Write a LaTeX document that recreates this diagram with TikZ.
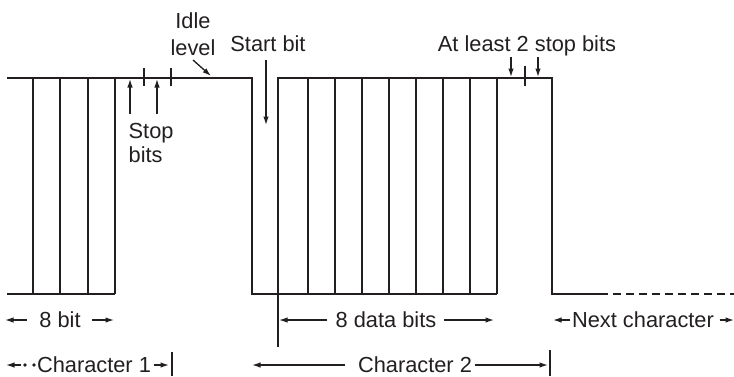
\documentclass[tikz,border=0pt]{standalone}
\usepackage{fontspec}
\setmainfont{Liberation Sans}
\usetikzlibrary{arrows.meta}
\definecolor{ink}{RGB}{35,31,32}

\begin{document}
\begin{tikzpicture}[x=1pt, y=-1pt, line width=1.3pt, draw=ink, text=ink,
    >={Latex[length=8.5pt,width=5.5pt]},
    lbl/.style={font=\fontsize{21.8}{24}\selectfont, inner sep=0pt}]
    \useasboundingbox (0,0) rectangle (734,376);

    %
    \draw (7,78) -- (252,78) -- (252,294) -- (278,294) -- (278,78)
        -- (552,78) -- (552,294) -- (600,294);
    \draw[dashed, dash pattern=on 8pt off 5pt] (600,294) -- (734,294);
    \draw (7,294) -- (115,294);
    \draw (278,294) -- (497,294);
    \draw (278,294) -- (278,347);

    %
    \foreach \x in {33,60,88,115}
        \draw (\x,78) -- (\x,294);
    \foreach \x in {308,335,362,389,416,443,470,497}
        \draw (\x,78) -- (\x,294);

    %
    \foreach \x in {144,171}
        \draw (\x,68) -- (\x,86);
    \draw (525,66) -- (525,86);

    %
    \node[lbl, align=center, font=\fontsize{21.8}{27}\selectfont] (idle) at (193,34) {Idle\\level};
    \coordinate (idletip) at (211,76);
    \draw[->] (193,60) -- (idletip);

    \node[lbl, anchor=base] (start) at (268,51) {Start bit};
    \coordinate (starttip) at (266,125);
    \draw[->] (266,60) -- (starttip);

    \node[lbl, anchor=west, align=left] (stop) at (128,143) {Stop\\bits};
    \coordinate (stopA) at (130,79);
    \coordinate (stopB) at (157,79);
    \draw[->] (130,114) -- (stopA);
    \draw[->] (157,114) -- (stopB);

    \node[lbl, anchor=base] (least) at (527,51) {At least 2 stop bits};
    \coordinate (leastA) at (511,77);
    \coordinate (leastB) at (538,77);
    \draw[->] (511,57) -- (leastA);
    \draw[->] (538,57) -- (leastB);

    %
    \node[lbl, anchor=base] (eightbit) at (60,327) {8 bit};
    \coordinate (ebL) at (5,320);
    \coordinate (ebR) at (114,320);
    \draw[->] ([xshift=-12pt]eightbit.west |- ebL) -- (ebL);
    \draw[->] ([xshift=11pt]eightbit.east |- ebR) -- (ebR);

    \node[lbl, anchor=base] (databits) at (386,327) {8 data bits};
    \coordinate (dbL) at (279,320);
    \coordinate (dbR) at (494,320);
    \draw[->] ([xshift=-8pt]databits.west |- dbL) -- (dbL);
    \draw[->] ([xshift=7pt]databits.east |- dbR) -- (dbR);

    \node[lbl, anchor=base] (nextchar) at (643,327) {Next character};
    \coordinate (ncL) at (553,320);
    \coordinate (ncR) at (734,320);
    \draw[->] ([xshift=-1pt]nextchar.west |- ncL) -- (ncL);
    \draw[->] ([xshift=5pt]nextchar.east |- ncR) -- (ncR);

    %
    \node[lbl, anchor=base] (charone) at (94,372) {Character 1};
    \coordinate (c1L) at (6,365);
    \coordinate (c1R) at (169,365);
    \draw[->] (21,365) -- (c1L);
    \fill[ink] (25,365) circle (1.8pt) (34,365) circle (1.8pt);
    \draw[->] ([xshift=2pt]charone.east |- c1R) -- (c1R);
    \draw (172,352) -- (172,376);

    \node[lbl, anchor=base] (chartwo) at (415,372) {Character 2};
    \coordinate (c2L) at (252,365);
    \coordinate (c2R) at (548,365);
    \draw[->] ([xshift=-12pt]chartwo.west |- c2L) -- (c2L);
    \draw[->] ([xshift=2pt]chartwo.east |- c2R) -- (c2R);
    \draw (550,350) -- (550,376);

\end{tikzpicture}
\end{document}
